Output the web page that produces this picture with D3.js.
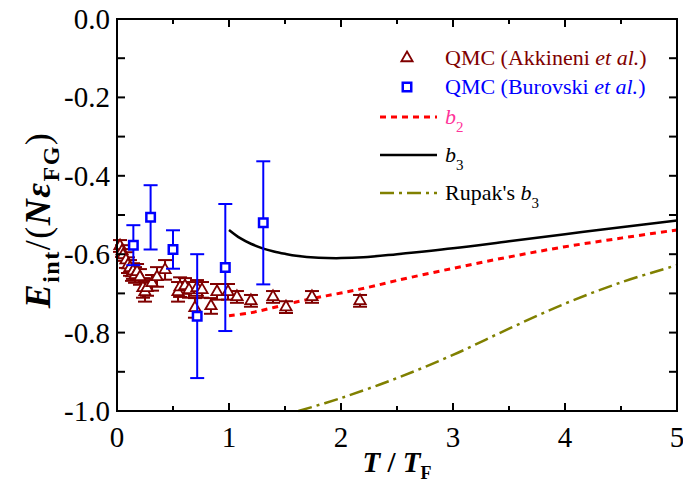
<!DOCTYPE html>
<meta charset="utf-8">
<body style="margin:0;background:#fff">
<div id="chart"></div>
<script src="https://d3js.org/d3.v7.min.js"></script>
<script>

// QMC (Akkineni et al.)
var akkT   = [0.027,0.045,0.054,0.080,0.098,0.116,0.134,0.143,0.161,0.179,0.205,0.232,0.250,0.268,0.313,0.357,0.429,0.545,0.563,0.607,0.643,0.696,0.714,0.759,0.839,0.893,0.991,1.071,1.196,1.393,1.509,1.741,2.170];
var akkE   = [-0.579,-0.592,-0.602,-0.615,-0.628,-0.635,-0.648,-0.643,-0.653,-0.645,-0.658,-0.686,-0.696,-0.686,-0.673,-0.658,-0.640,-0.696,-0.684,-0.681,-0.691,-0.737,-0.686,-0.691,-0.732,-0.696,-0.696,-0.709,-0.719,-0.709,-0.735,-0.709,-0.719];
var akkErr = [0.015,0.015,0.015,0.02,0.02,0.02,0.02,0.02,0.02,0.02,0.02,0.025,0.025,0.02,0.02,0.025,0.025,0.025,0.025,0.02,0.02,0.025,0.02,0.02,0.02,0.02,0.02,0.015,0.015,0.015,0.015,0.015,0.015];

// QMC (Burovski et al.)
var burT   = [0.146,0.300,0.500,0.716,0.967,1.306];
var burE   = [-0.577,-0.506,-0.588,-0.758,-0.634,-0.520];
var burErr = [0.051,0.082,0.049,0.158,0.162,0.157];

// b2
var b2T = [1.0,1.2,1.4,1.6,1.8,2.0,2.25,2.5,3.0,3.5,4.0,4.5,5.0];
var b2E = [-0.757,-0.749,-0.736,-0.722,-0.710,-0.699,-0.684,-0.667,-0.636,-0.607,-0.581,-0.559,-0.538];

// b3
var b3T = [1.0,1.1,1.2,1.3,1.4,1.5,1.6,1.8,2.0,2.2,2.5,3.0,3.5,4.0,4.5,5.0];
var b3E = [-0.538,-0.559,-0.574,-0.585,-0.593,-0.599,-0.604,-0.609,-0.610,-0.608,-0.600,-0.585,-0.567,-0.549,-0.531,-0.514];

// Rupak's b3
var rupT = [1.62,2.0,2.5,3.0,3.5,4.0,4.5,5.0];
var rupE = [-1.0,-0.967,-0.916,-0.857,-0.790,-0.726,-0.672,-0.628];

var xTicks = [0,1,2,3,4,5];
var yTicks = [0.0,-0.2,-0.4,-0.6,-0.8,-1.0];

var w = 683, h = 490;
var pLeft = 117, pRight = 677, pTop = 19, pBottom = 411;
var serif = "'Liberation Serif', 'Times New Roman', serif";
var maroon = "#800000";

var svg = d3.select("#chart")
    .append("svg")
    .attr("width", w)
    .attr("height", h);

var x = d3.scaleLinear().domain([0, 5]).range([pLeft, pRight]);
var y = d3.scaleLinear().domain([-1, 0]).range([pBottom, pTop]);

function pts(xs, ys) {
    return xs.map(function(v, i) { return [v, ys[i]]; });
}

var line = d3.line()
    .x(function(d) { return x(d[0]); })
    .y(function(d) { return y(d[1]); })
    .curve(d3.curveCatmullRom);

var plot = svg.append("g");

// curves
plot.append("path")
    .attr("d", line(pts(rupT, rupE)))
    .attr("fill", "none")
    .attr("stroke", "#808000")
    .attr("stroke-width", 2.5)
    .attr("stroke-dasharray", "14,5,3,5");

plot.append("path")
    .attr("d", line(pts(b2T, b2E)))
    .attr("fill", "none")
    .attr("stroke", "#ff0000")
    .attr("stroke-width", 3)
    .attr("stroke-dasharray", "6,5");

plot.append("path")
    .attr("d", line(pts(b3T, b3E)))
    .attr("fill", "none")
    .attr("stroke", "#000")
    .attr("stroke-width", 2.5);

// error bars + markers
function errorBars(g, xs, ys, es, color, cap) {
    var data = xs.map(function(v, i) { return {x: v, y: ys[i], e: es[i]}; });
    var bars = g.selectAll(null).data(data).enter().append("g")
        .attr("stroke", color)
        .attr("stroke-width", 2);
    bars.append("line")
        .attr("x1", function(d) { return x(d.x); })
        .attr("x2", function(d) { return x(d.x); })
        .attr("y1", function(d) { return y(d.y - d.e); })
        .attr("y2", function(d) { return y(d.y + d.e); });
    bars.append("line")
        .attr("x1", function(d) { return x(d.x) - cap; })
        .attr("x2", function(d) { return x(d.x) + cap; })
        .attr("y1", function(d) { return y(d.y - d.e); })
        .attr("y2", function(d) { return y(d.y - d.e); });
    bars.append("line")
        .attr("x1", function(d) { return x(d.x) - cap; })
        .attr("x2", function(d) { return x(d.x) + cap; })
        .attr("y1", function(d) { return y(d.y + d.e); })
        .attr("y2", function(d) { return y(d.y + d.e); });
    return data;
}

var tri = d3.symbol().type(d3.symbolTriangle).size(55);
var sq = d3.symbol().type(d3.symbolSquare).size(72);

var akkG = plot.append("g");
var akkData = errorBars(akkG, akkT, akkE, akkErr, maroon, 7);
akkG.selectAll(null).data(akkData).enter().append("path")
    .attr("d", tri)
    .attr("transform", function(d) { return "translate(" + x(d.x) + "," + y(d.y) + ")"; })
    .attr("fill", "#fff")
    .attr("stroke", maroon)
    .attr("stroke-width", 1.8);

var burG = plot.append("g");
var burData = errorBars(burG, burT, burE, burErr, "#0000ff", 7);
burG.selectAll(null).data(burData).enter().append("path")
    .attr("d", sq)
    .attr("transform", function(d) { return "translate(" + x(d.x) + "," + y(d.y) + ")"; })
    .attr("fill", "#fff")
    .attr("stroke", "#0000ff")
    .attr("stroke-width", 2.5);

// axes frame and ticks
svg.append("rect")
    .attr("x", pLeft).attr("y", pTop)
    .attr("width", pRight - pLeft).attr("height", pBottom - pTop)
    .attr("fill", "none")
    .attr("stroke", "#000")
    .attr("stroke-width", 2);

var axG = svg.append("g").attr("stroke", "#000").attr("stroke-width", 2);
d3.range(0, 5.01, 0.5).forEach(function(t) {
    var len = (t % 1 === 0) ? 8 : 5;
    axG.append("line").attr("x1", x(t)).attr("x2", x(t)).attr("y1", pBottom).attr("y2", pBottom - len);
    axG.append("line").attr("x1", x(t)).attr("x2", x(t)).attr("y1", pTop).attr("y2", pTop + len);
});
d3.range(0, 11).forEach(function(i) {
    var t = -i / 10;
    var len = 8;
    axG.append("line").attr("x1", pLeft).attr("x2", pLeft + len).attr("y1", y(t)).attr("y2", y(t));
    axG.append("line").attr("x1", pRight).attr("x2", pRight - len).attr("y1", y(t)).attr("y2", y(t));
});

svg.selectAll(".xt").data(xTicks).enter().append("text")
    .attr("class", "xt")
    .attr("x", function(d) { return x(d); })
    .attr("y", pBottom + 36)
    .attr("text-anchor", "middle")
    .attr("font-family", serif)
    .attr("font-size", 29)
    .text(function(d) { return d; });

svg.selectAll(".yt").data(yTicks).enter().append("text")
    .attr("class", "yt")
    .attr("x", pLeft - 7)
    .attr("y", function(d) { return y(d) + 10; })
    .attr("text-anchor", "end")
    .attr("font-family", serif)
    .attr("font-size", 29)
    .text(function(d) { return d3.format(".1f")(d).replace("\u2212", "-"); });

// axis titles
var xl = svg.append("text")
    .attr("x", 397)
    .attr("y", 472)
    .attr("text-anchor", "middle")
    .attr("font-family", serif)
    .attr("font-size", 29)
    .attr("font-weight", "bold");
xl.append("tspan").attr("font-style", "italic").text("T");
xl.append("tspan").text(" / ");
xl.append("tspan").attr("font-style", "italic").text("T");
xl.append("tspan").attr("font-size", 18).attr("dy", 7).text("F");

var yl = svg.append("text")
    .attr("transform", "translate(50,220) rotate(-90)")
    .attr("text-anchor", "middle")
    .attr("font-family", serif)
    .attr("font-size", 36)
    .attr("font-weight", "bold")
    .attr("letter-spacing", 1.5);
yl.append("tspan").attr("font-style", "italic").text("E");
yl.append("tspan").attr("font-size", 24).attr("dy", 9).text("int");
yl.append("tspan").attr("dy", -9).attr("font-weight", "normal").text("/(");
yl.append("tspan").attr("font-style", "italic").text("N\u03b5");
yl.append("tspan").attr("font-size", 24).attr("dy", 9).text("FG");
yl.append("tspan").attr("dy", -9).attr("font-weight", "normal").text(")");

// legend
var lg = svg.append("g");
var lx1 = 380, lx2 = 437, tx = 445;
var rows = [58, 87, 117, 155, 193];

lg.append("path").attr("d", tri)
    .attr("transform", "translate(407," + rows[0] + ")")
    .attr("fill", "#fff").attr("stroke", maroon).attr("stroke-width", 1.8);
lg.append("path").attr("d", sq)
    .attr("transform", "translate(407," + rows[1] + ")")
    .attr("fill", "#fff").attr("stroke", "#0000ff").attr("stroke-width", 2.5);
lg.append("line").attr("x1", lx1).attr("x2", lx2).attr("y1", rows[2]).attr("y2", rows[2])
    .attr("stroke", "#ff0000").attr("stroke-width", 3).attr("stroke-dasharray", "6,5");
lg.append("line").attr("x1", lx1).attr("x2", lx2).attr("y1", rows[3]).attr("y2", rows[3])
    .attr("stroke", "#000").attr("stroke-width", 2.5);
lg.append("line").attr("x1", lx1).attr("x2", lx2).attr("y1", rows[4]).attr("y2", rows[4])
    .attr("stroke", "#808000").attr("stroke-width", 2.5).attr("stroke-dasharray", "14,5,3,5");

function legText(yy, color) {
    return lg.append("text")
        .attr("x", tx).attr("y", yy + 7)
        .attr("font-family", serif)
        .attr("font-size", 22)
        .attr("fill", color);
}
var t1 = legText(rows[0], maroon);
t1.append("tspan").text("QMC (Akkineni ");
t1.append("tspan").attr("font-style", "italic").text("et al.");
t1.append("tspan").text(")");
var t2 = legText(rows[1], "#0000ff");
t2.append("tspan").text("QMC (Burovski ");
t2.append("tspan").attr("font-style", "italic").text("et al.");
t2.append("tspan").text(")");
var t3 = legText(rows[2], "#ff3399");
t3.append("tspan").attr("font-style", "italic").text("b");
t3.append("tspan").attr("font-size", 15).attr("dy", 8).text("2");
var t4 = legText(rows[3], "#000");
t4.append("tspan").attr("font-style", "italic").text("b");
t4.append("tspan").attr("font-size", 15).attr("dy", 8).text("3");
var t5 = legText(rows[4], "#000");
t5.append("tspan").text("Rupak's ");
t5.append("tspan").attr("font-style", "italic").text("b");
t5.append("tspan").attr("font-size", 15).attr("dy", 8).text("3");

</script>
</body>
